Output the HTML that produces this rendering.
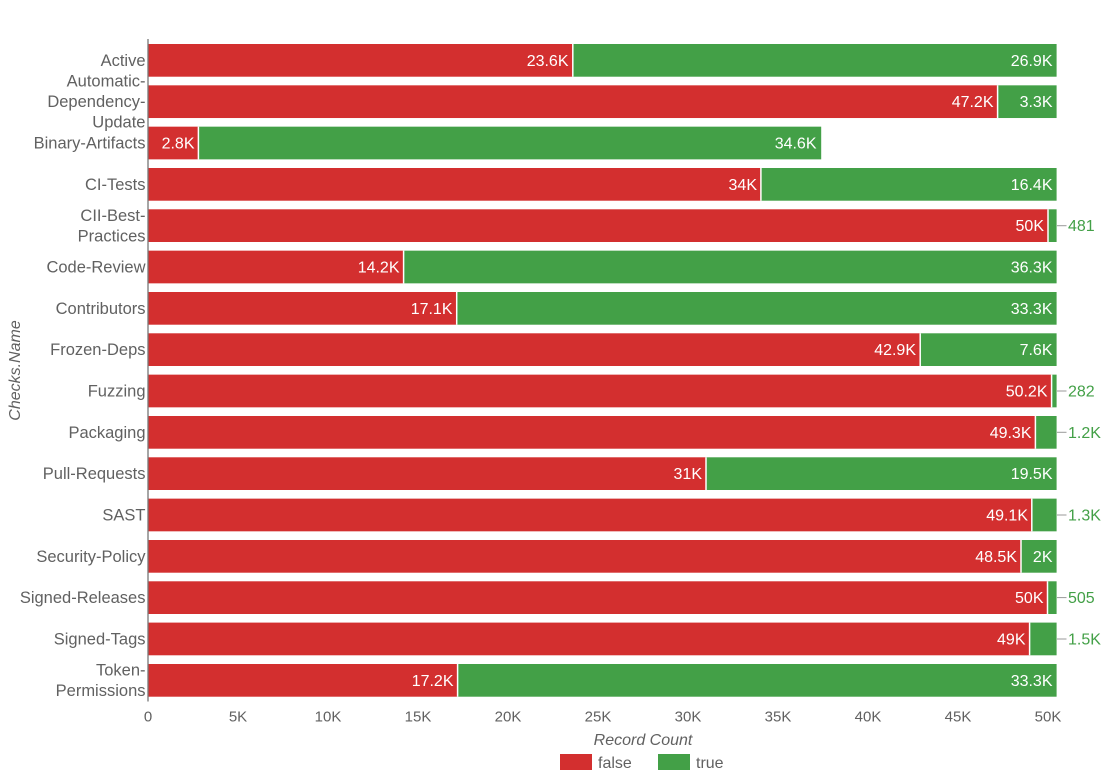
<!DOCTYPE html>
<html><head><meta charset="utf-8"><style>
html,body{margin:0;padding:0;background:#fff;}
svg{display:block;}
text{font-family:"Liberation Sans",Arial,sans-serif;}
.cat{font-size:16.5px;fill:#616161;text-anchor:end;}
.tick{font-size:15px;fill:#616161;text-anchor:middle;}
.in{font-size:16px;fill:#fff;text-anchor:end;}
.out{font-size:16px;fill:#43a047;}
.f{fill:#d32f2f;}
.t{fill:#43a047;}
</style></head><body>
<svg width="1107" height="781" viewBox="0 0 1107 781" xmlns="http://www.w3.org/2000/svg">
<g>
<rect class="f" x="148" y="44" width="424.8" height="32.7"/><rect class="t" x="572.8" y="44" width="483.8" height="32.7"/>
<rect class="f" x="148" y="85.33" width="849.6" height="32.7"/><rect class="t" x="997.6" y="85.33" width="59" height="32.7"/>
<rect class="f" x="148" y="126.66" width="50.4" height="32.7"/><rect class="t" x="198.4" y="126.66" width="622.8" height="32.7"/>
<rect class="f" x="148" y="168" width="612.9" height="32.7"/><rect class="t" x="760.9" y="168" width="295.7" height="32.7"/>
<rect class="f" x="148" y="209.3" width="900" height="32.7"/><rect class="t" x="1048" y="209.3" width="8.6" height="32.7"/>
<rect class="f" x="148" y="250.65" width="255.6" height="32.7"/><rect class="t" x="403.6" y="250.65" width="653" height="32.7"/>
<rect class="f" x="148" y="292" width="308.7" height="32.7"/><rect class="t" x="456.7" y="292" width="599.9" height="32.7"/>
<rect class="f" x="148" y="333.3" width="772.2" height="32.7"/><rect class="t" x="920.2" y="333.3" width="136.4" height="32.7"/>
<rect class="f" x="148" y="374.64" width="903.6" height="32.7"/><rect class="t" x="1051.6" y="374.64" width="5" height="32.7"/>
<rect class="f" x="148" y="416" width="887.4" height="32.7"/><rect class="t" x="1035.4" y="416" width="21.2" height="32.7"/>
<rect class="f" x="148" y="457.3" width="558" height="32.7"/><rect class="t" x="706" y="457.3" width="350.6" height="32.7"/>
<rect class="f" x="148" y="498.63" width="883.8" height="32.7"/><rect class="t" x="1031.8" y="498.63" width="24.8" height="32.7"/>
<rect class="f" x="148" y="540" width="873" height="32.7"/><rect class="t" x="1021" y="540" width="35.6" height="32.7"/>
<rect class="f" x="148" y="581.3" width="899.5" height="32.7"/><rect class="t" x="1047.5" y="581.3" width="9.1" height="32.7"/>
<rect class="f" x="148" y="622.6" width="881.6" height="32.7"/><rect class="t" x="1029.6" y="622.6" width="27" height="32.7"/>
<rect class="f" x="148" y="664" width="309.6" height="32.7"/><rect class="t" x="457.6" y="664" width="599" height="32.7"/>
</g>
<g stroke="#fff" stroke-width="1.5">
<line x1="572.8" y1="44" x2="572.8" y2="76.7"/>
<line x1="997.6" y1="85.33" x2="997.6" y2="118"/>
<line x1="198.4" y1="126.66" x2="198.4" y2="159.4"/>
<line x1="760.9" y1="168" x2="760.9" y2="200.7"/>
<line x1="1048" y1="209.3" x2="1048" y2="242"/>
<line x1="403.6" y1="250.65" x2="403.6" y2="283.4"/>
<line x1="456.7" y1="292" x2="456.7" y2="324.7"/>
<line x1="920.2" y1="333.3" x2="920.2" y2="366"/>
<line x1="1051.6" y1="374.64" x2="1051.6" y2="407.3"/>
<line x1="1035.4" y1="416" x2="1035.4" y2="448.7"/>
<line x1="706" y1="457.3" x2="706" y2="490"/>
<line x1="1031.8" y1="498.63" x2="1031.8" y2="531.3"/>
<line x1="1021" y1="540" x2="1021" y2="572.7"/>
<line x1="1047.5" y1="581.3" x2="1047.5" y2="614"/>
<line x1="1029.6" y1="622.6" x2="1029.6" y2="655.3"/>
<line x1="457.6" y1="664" x2="457.6" y2="696.7"/>
</g>
<line x1="148" y1="39" x2="148" y2="701.5" stroke="#777" stroke-width="1.3"/>
<g class="in">
<text class="in" x="568.5" y="65.9">23.6K</text><text class="in" x="1052.5" y="65.9">26.9K</text>
<text class="in" x="993.5" y="107.2">47.2K</text><text class="in" x="1052.5" y="107.2">3.3K</text>
<text class="in" x="194.5" y="148.5">2.8K</text><text class="in" x="816.5" y="148.5">34.6K</text>
<text class="in" x="757" y="189.8">34K</text><text class="in" x="1052.5" y="189.8">16.4K</text>
<text class="in" x="1044" y="231.2">50K</text>
<text class="in" x="399.5" y="272.5">14.2K</text><text class="in" x="1052.5" y="272.5">36.3K</text>
<text class="in" x="452.5" y="313.8">17.1K</text><text class="in" x="1052.5" y="313.8">33.3K</text>
<text class="in" x="916" y="355.2">42.9K</text><text class="in" x="1052.5" y="355.2">7.6K</text>
<text class="in" x="1047.5" y="396.5">50.2K</text>
<text class="in" x="1031.5" y="437.8">49.3K</text>
<text class="in" x="702" y="479.2">31K</text><text class="in" x="1052.5" y="479.2">19.5K</text>
<text class="in" x="1028" y="520.5">49.1K</text>
<text class="in" x="1017" y="561.8">48.5K</text><text class="in" x="1052.5" y="561.8">2K</text>
<text class="in" x="1043.5" y="603.1">50K</text>
<text class="in" x="1025.5" y="644.5">49K</text>
<text class="in" x="453.5" y="685.8">17.2K</text><text class="in" x="1052.5" y="685.8">33.3K</text>
</g>
<g stroke="#999" stroke-width="1">
<line x1="1057" y1="225.7" x2="1066.5" y2="225.7"/>
<line x1="1057" y1="391" x2="1066.5" y2="391"/>
<line x1="1057" y1="432.3" x2="1066.5" y2="432.3"/>
<line x1="1057" y1="515" x2="1066.5" y2="515"/>
<line x1="1057" y1="597.6" x2="1066.5" y2="597.6"/>
<line x1="1057" y1="639" x2="1066.5" y2="639"/>
</g>
<g class="out">
<text class="out" x="1068" y="231.2">481</text>
<text class="out" x="1068" y="396.5">282</text>
<text class="out" x="1068" y="437.8">1.2K</text>
<text class="out" x="1068" y="520.5">1.3K</text>
<text class="out" x="1068" y="603.1">505</text>
<text class="out" x="1068" y="644.5">1.5K</text>
</g>
<g>
<text class="cat" x="145.5" y="65.9">Active</text>
<text class="cat" x="145.5" y="86.4">Automatic-</text>
<text class="cat" x="145.5" y="107">Dependency-</text>
<text class="cat" x="145.5" y="127.6">Update</text>
<text class="cat" x="145.5" y="148.5">Binary-Artifacts</text>
<text class="cat" x="145.5" y="189.8">CI-Tests</text>
<text class="cat" x="145.5" y="220.9">CII-Best-</text>
<text class="cat" x="145.5" y="241.5">Practices</text>
<text class="cat" x="145.5" y="272.5">Code-Review</text>
<text class="cat" x="145.5" y="313.8">Contributors</text>
<text class="cat" x="145.5" y="355.2">Frozen-Deps</text>
<text class="cat" x="145.5" y="396.5">Fuzzing</text>
<text class="cat" x="145.5" y="437.8">Packaging</text>
<text class="cat" x="145.5" y="479.2">Pull-Requests</text>
<text class="cat" x="145.5" y="520.5">SAST</text>
<text class="cat" x="145.5" y="561.8">Security-Policy</text>
<text class="cat" x="145.5" y="603.1">Signed-Releases</text>
<text class="cat" x="145.5" y="644.5">Signed-Tags</text>
<text class="cat" x="145.5" y="675.5">Token-</text>
<text class="cat" x="145.5" y="696.1">Permissions</text>
</g>
<g>
<text class="tick" x="148" y="721.7">0</text>
<text class="tick" x="238" y="721.7">5K</text>
<text class="tick" x="328" y="721.7">10K</text>
<text class="tick" x="418" y="721.7">15K</text>
<text class="tick" x="508" y="721.7">20K</text>
<text class="tick" x="598" y="721.7">25K</text>
<text class="tick" x="688" y="721.7">30K</text>
<text class="tick" x="778" y="721.7">35K</text>
<text class="tick" x="868" y="721.7">40K</text>
<text class="tick" x="958" y="721.7">45K</text>
<text class="tick" x="1048" y="721.7">50K</text>
</g>
<text x="643" y="745" font-size="16" font-style="italic" fill="#616161" text-anchor="middle">Record Count</text>
<text transform="translate(20,370.5) rotate(-90)" font-size="16" font-style="italic" fill="#616161" text-anchor="middle">Checks.Name</text>
<rect x="560" y="754" width="32" height="16" fill="#d32f2f"/>
<text x="598" y="768" font-size="16" fill="#616161">false</text>
<rect x="658" y="754" width="32" height="16" fill="#43a047"/>
<text x="696" y="768" font-size="16" fill="#616161">true</text>
</svg>
</body></html>
